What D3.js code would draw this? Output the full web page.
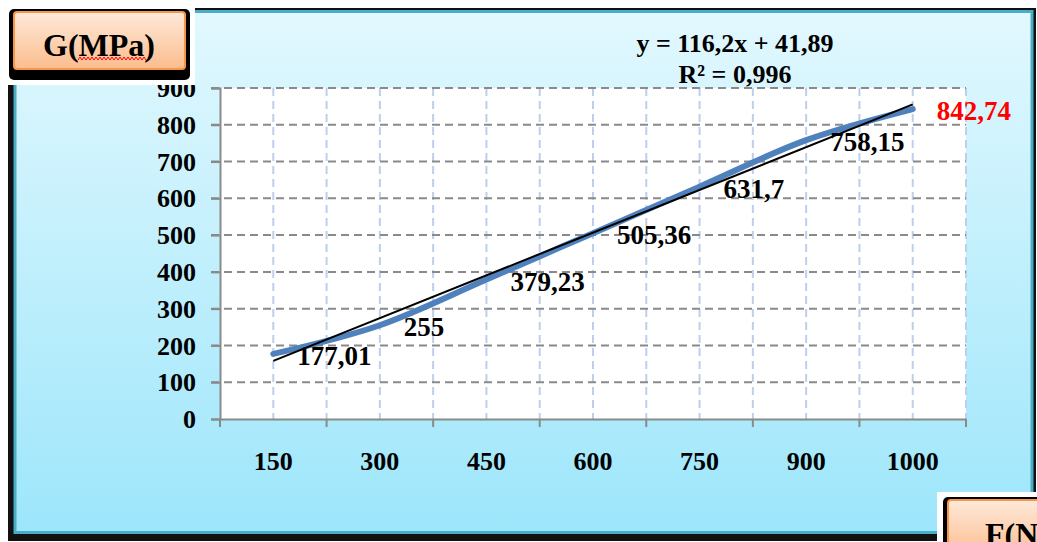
<!DOCTYPE html>
<html>
<head>
<meta charset="utf-8">
<title>G(MPa) vs F(N)</title>
<script src="https://cdn.jsdelivr.net/npm/d3@7"></script>
<style>
  html, body { margin: 0; padding: 0; background: #fff; overflow: hidden; }
  svg { display: block; }
  text { font-family: "Liberation Serif", "Times New Roman", serif; font-weight: bold; }
</style>
</head>
<body>
<svg id="chart" width="1037" height="542"></svg>
<script>
// =============================================================================
// G(MPa) against load F(N) — category x axis, smoothed series + linear trend.
// =============================================================================

const CATEGORIES = ["150", "300", "450", "600", "750", "900", "1000"];
const G_VALUES   = [177.01, 255, 379.23, 505.36, 631.7, 758.15, 842.74];
const G_LABELS   = ["177,01", "255", "379,23", "505,36", "631,7", "758,15", "842,74"];
const Y_TICKS    = [0, 100, 200, 300, 400, 500, 600, 700, 800, 900];
const TREND      = { slope: 116.2, intercept: 41.89 };   // y = 116,2x + 41,89 over x = 1..7
const EQ_LINES   = ["y = 116,2x + 41,89", "R² = 0,996"];

const PLOT = { left: 220, right: 966, top: 88, bottom: 419 };

const svg = d3.select("#chart");
const defs = svg.append("defs");

// ----- gradients ---------------------------------------------------------------
const bg = defs.append("linearGradient").attr("id", "bgGrad")
  .attr("x1", 0).attr("y1", 0).attr("x2", 0).attr("y2", 1);
bg.append("stop").attr("offset", "0%").attr("stop-color", "#e2f8fe");
bg.append("stop").attr("offset", "100%").attr("stop-color", "#9de6fb");

const peach = defs.append("linearGradient").attr("id", "peachGrad")
  .attr("x1", 0).attr("y1", 0).attr("x2", 0).attr("y2", 1);
peach.append("stop").attr("offset", "0%").attr("stop-color", "#fee9da");
peach.append("stop").attr("offset", "100%").attr("stop-color", "#fbbd8d");

// ----- outer chart frame (black shadow, teal border, blue gradient) -----------
svg.append("rect").attr("x", 8).attr("y", 8).attr("width", 1028).attr("height", 533)
  .attr("fill", "#111");
svg.append("rect").attr("x", 15).attr("y", 11.5).attr("width", 1017).attr("height", 521)
  .attr("fill", "url(#bgGrad)").attr("stroke", "#4bacc6").attr("stroke-width", 3);

// ----- scales ------------------------------------------------------------------
const x = d3.scaleBand().domain(CATEGORIES).range([PLOT.left, PLOT.right]).padding(0);
const y = d3.scaleLinear().domain([0, 900]).range([PLOT.bottom, PLOT.top]);
const cx = (c) => x(c) + x.bandwidth() / 2;

// plot area
svg.append("rect")
  .attr("x", PLOT.left).attr("y", PLOT.top)
  .attr("width", PLOT.right - PLOT.left).attr("height", PLOT.bottom - PLOT.top)
  .attr("fill", "#fff");

// vertical gridlines — at every band edge and every band centre
const vGrid = [];
CATEGORIES.forEach((c) => { vGrid.push(x(c)); vGrid.push(cx(c)); });
vGrid.push(PLOT.right);
svg.append("g").selectAll("line").data(vGrid.filter((v) => v > PLOT.left)).join("line")
  .attr("x1", (d) => d).attr("x2", (d) => d)
  .attr("y1", PLOT.top).attr("y2", PLOT.bottom)
  .attr("stroke", "#bccfec").attr("stroke-width", 2)
  .attr("stroke-dasharray", "8,5");

// horizontal gridlines (grey dashed), running out past the axis as ticks
svg.append("g").selectAll("line").data(Y_TICKS.filter((v) => v > 0)).join("line")
  .attr("x1", PLOT.left - 9).attr("x2", PLOT.right)
  .attr("y1", (d) => y(d)).attr("y2", (d) => y(d))
  .attr("stroke", "#8a8a8a").attr("stroke-width", 2)
  .attr("stroke-dasharray", "8,5");

// ----- axes ----------------------------------------------------------------------
const yAx = svg.append("g").attr("transform", `translate(${PLOT.left},0)`)
  .call(d3.axisLeft(y).tickValues(Y_TICKS).tickSize(9).tickPadding(15).tickFormat(d3.format("d")));
yAx.select(".domain").attr("stroke", "#8a8a8a").attr("stroke-width", 2);
yAx.selectAll(".tick line").attr("stroke", "#8a8a8a").attr("stroke-width", 2);
yAx.selectAll(".tick text")
  .attr("font-size", 26).attr("font-family", "Liberation Serif").attr("font-weight", "bold")
  .attr("fill", "#000").attr("dy", "0.33em");

const xAx = svg.append("g").attr("transform", `translate(0,${PLOT.bottom})`)
  .call(d3.axisBottom(x).tickSize(0).tickPadding(33));
xAx.select(".domain").attr("stroke", "#8a8a8a").attr("stroke-width", 2);
xAx.selectAll(".tick text")
  .attr("font-size", 26).attr("font-family", "Liberation Serif").attr("font-weight", "bold")
  .attr("fill", "#000");
// tick marks on band boundaries
svg.append("g").selectAll("line").data(CATEGORIES.map((c) => x(c)).concat([PLOT.right])).join("line")
  .attr("x1", (d) => d).attr("x2", (d) => d)
  .attr("y1", PLOT.bottom).attr("y2", PLOT.bottom + 8)
  .attr("stroke", "#8a8a8a").attr("stroke-width", 2);

// ----- series ------------------------------------------------------------------
const pts = CATEGORIES.map((c, i) => ({ c, v: G_VALUES[i], label: G_LABELS[i] }));

svg.append("path").datum(pts)
  .attr("fill", "none").attr("stroke", "#4f81bd").attr("stroke-width", 6)
  .attr("stroke-linecap", "round")
  .attr("d", d3.line().x((d) => cx(d.c)).y((d) => y(d.v)).curve(d3.curveCatmullRom.alpha(0.5)));

// linear trendline across the category index 1..n
const trendPts = [0, CATEGORIES.length - 1].map((i) => ({
  c: CATEGORIES[i], v: TREND.slope * (i + 1) + TREND.intercept,
}));
svg.append("path").datum(trendPts)
  .attr("fill", "none").attr("stroke", "#000").attr("stroke-width", 2)
  .attr("d", d3.line().x((d) => cx(d.c)).y((d) => y(d.v)));

// data labels — right of each point; the last one in red
svg.append("g").selectAll("text").data(pts).join("text")
  .attr("x", (d) => cx(d.c) + 24)
  .attr("y", (d) => y(d.v) + 11)
  .attr("font-size", 27)
  .style("fill", (d, i) => (i === pts.length - 1 ? "#ff0000" : "#000"))
  .text((d) => d.label);

// trendline equation
svg.append("g").selectAll("text").data(EQ_LINES).join("text")
  .attr("x", 735).attr("y", (d, i) => 52 + i * 31)
  .attr("text-anchor", "middle").attr("font-size", 26)
  .text((d) => d);

// ----- title boxes -------------------------------------------------------------
function titleBox(g, bx, by, bw, bh, label, tx, ty) {
  g.append("rect").attr("x", bx - 5).attr("y", by - 3).attr("width", bw + 10).attr("height", bh + 14)
    .attr("rx", 5).attr("fill", "#000");
  g.append("rect").attr("x", bx).attr("y", by).attr("width", bw).attr("height", bh)
    .attr("rx", 3).attr("fill", "url(#peachGrad)").attr("stroke", "#f79646").attr("stroke-width", 2);
  g.append("text").attr("x", tx).attr("y", ty).attr("font-size", 32).text(label);
}

// y axis title, top-left
const gTitle = svg.append("g");
gTitle.append("rect").attr("x", 0).attr("y", 0).attr("width", 195).attr("height", 85).attr("fill", "#fff");
titleBox(gTitle, 14, 12, 171, 57, "G(MPa)", 43, 56);
// spell-check squiggle under "MPa"
const squiggle = d3.range(0, 35).map((i) => [78 + i * 2, i % 2 ? 57 : 60]);
gTitle.append("path").attr("d", d3.line()(squiggle))
  .attr("fill", "none").attr("stroke", "#ff0000").attr("stroke-width", 1);

// x axis title, bottom-right (runs off the page, as in the source)
const fTitle = svg.append("g");
fTitle.append("rect").attr("x", 937).attr("y", 492).attr("width", 100).attr("height", 50).attr("fill", "#fff");
titleBox(fTitle, 948, 500, 171, 57, "F(N)", 985, 545);
</script>
</body>
</html>
